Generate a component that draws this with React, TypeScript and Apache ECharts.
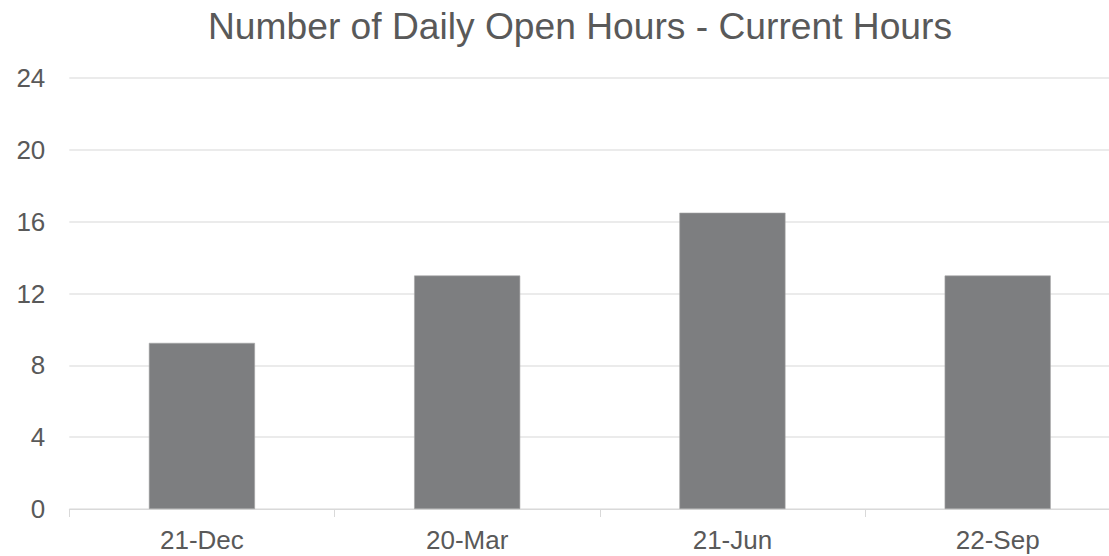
import React, { useEffect, useRef } from "react";
import * as echarts from "echarts";

const titleText = "Number of Daily Open Hours - Current Hours";
const categories = ["21-Dec", "20-Mar", "21-Jun", "22-Sep"];
const hours = [9.25, 13, 16.5, 13];
const yTicks = { min: 0, max: 24, interval: 4 };

export default function App() {
  const ref = useRef<HTMLDivElement>(null);
  useEffect(() => {
    if (!ref.current) return;
    const chart = echarts.init(ref.current, undefined, { renderer: "svg" });
    const font = "'Liberation Sans', Arial, sans-serif";
    chart.setOption({
      animation: false,
      backgroundColor: "#ffffff",
      title: {
        text: titleText,
        left: 208,
        top: 7,
        padding: 0,
        textStyle: { fontFamily: font, fontSize: 37.2, fontWeight: "normal", color: "#595959" },
      },
      grid: { left: 69.3, top: 78, bottom: 47, width: 1061, containLabel: false },
      xAxis: {
        type: "category",
        data: categories,
        axisLine: { show: true, lineStyle: { color: "#d9d9d9", width: 1 } },
        axisTick: { show: true, length: 8, alignWithLabel: false, lineStyle: { color: "#d9d9d9" } },
        axisLabel: { margin: 18, fontFamily: font, fontSize: 26, color: "#595959" },
      },
      yAxis: {
        type: "value",
        min: yTicks.min,
        max: yTicks.max,
        interval: yTicks.interval,
        axisLine: { show: false },
        axisTick: { show: false },
        splitLine: { lineStyle: { color: "#e4e4e4", width: 1.5 } },
        axisLabel: { margin: 24, fontFamily: font, fontSize: 26, color: "#595959" },
      },
      series: [
        {
          type: "bar",
          data: hours,
          barWidth: "40%",
          itemStyle: { color: "#7d7e80", borderColor: "#a6a6a6", borderWidth: 0.6 },
        },
      ],
    });
    return () => chart.dispose();
  }, []);
  return (
    <div style={{ position: "fixed", left: 0, top: 0, width: 1109, height: 556, overflow: "hidden", background: "#fff" }}>
      <div ref={ref} style={{ width: 1131, height: 556 }} />
    </div>
  );
}
